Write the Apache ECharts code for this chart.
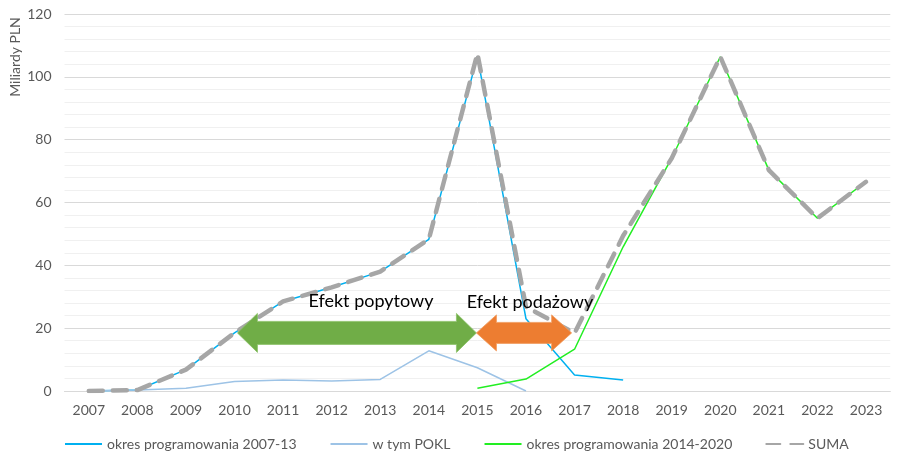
<!DOCTYPE html>
<html>
<head>
<meta charset="utf-8">
<script src="https://cdn.jsdelivr.net/npm/echarts@6/dist/echarts.min.js"></script>
<style>html,body{margin:0;padding:0;background:#fff}#c{width:901px;height:461px}</style>
</head>
<body>
<div id="c"></div>
<script>
var years = ['2007','2008','2009','2010','2011','2012','2013','2014','2015','2016','2017','2018','2019','2020','2021','2022','2023'];
var okres0713 = [0, 0.3, 6.8, 18.5, 28.5, 33, 38, 48.3, 106.5, 23, 5.1, 3.5, null, null, null, null, null];
var pokl = [0, 0.3, 0.9, 3, 3.5, 3.2, 3.7, 12.8, 7.4, 0, null, null, null, null, null, null, null];
var okres1420 = [null, null, null, null, null, null, null, null, 0.9, 3.8, 13.3, 45.9, 74.1, 106.4, 70.3, 55, 66.6];
var suma = [0, 0.3, 6.8, 18.5, 28.5, 33, 38, 48.3, 107.4, 26.8, 18.4, 49.4, 74.1, 106.4, 70.3, 55, 66.6];
var seriesNames = ['okres programowania 2007-13', 'w tym POKL', 'okres programowania 2014-2020', 'SUMA'];
var yTicks = [0, 20, 40, 60, 80, 100, 120];
var yAxisTitle = 'Miliardy PLN';
// annotations: [category index from, category index to, value level]
var arrowDemand = {label: 'Efekt popytowy', from: 3.06, to: 7.98, y: 18.5};
var arrowSupply = {label: 'Efekt podażowy', from: 7.98, to: 9.94, y: 18.5};

var FONT = 'Lato';
var chart = echarts.init(document.getElementById('c'), null, {renderer: 'canvas'});
var option = {
  animation: false,
  textStyle: {fontFamily: FONT},
  grid: {left: 64.5, right: 10.7, top: 14, bottom: 70},
  legend: {
    bottom: 5, left: 59, itemWidth: 37, itemHeight: 10, itemGap: 33,
    itemStyle: {opacity: 0},
    textStyle: {color: '#595959', fontSize: 14, fontFamily: FONT},
    data: seriesNames
  },
  xAxis: {
    type: 'category', data: years, boundaryGap: true,
    axisLine: {show: true, lineStyle: {color: '#D9D9D9', width: 1}},
    axisTick: {show: false},
    axisLabel: {color: '#595959', fontSize: 14, margin: 12}
  },
  yAxis: {
    type: 'value', min: yTicks[0], max: yTicks[yTicks.length - 1], interval: 20,
    axisLine: {show: false}, axisTick: {show: false},
    axisLabel: {color: '#595959', fontSize: 14, margin: 13},
    splitLine: {show: true, lineStyle: {color: '#D9D9D9', width: 1}},
    minorTick: {show: false, splitNumber: 5},
    minorSplitLine: {show: true, lineStyle: {color: '#F0F0F0', width: 1}}
  },
  series: [
    {name: seriesNames[0], type: 'line', data: okres0713, symbol: 'none', connectNulls: false,
     lineStyle: {color: '#00B0F0', width: 1.5}, itemStyle: {color: '#00B0F0'}, z: 2},
    {name: seriesNames[1], type: 'line', data: pokl, symbol: 'none',
     lineStyle: {color: '#9DC3E6', width: 1.5}, itemStyle: {color: '#9DC3E6'}, z: 2},
    {name: seriesNames[2], type: 'line', data: okres1420, symbol: 'none',
     lineStyle: {color: '#22EE22', width: 1.5}, itemStyle: {color: '#22EE22'}, z: 2},
    {name: seriesNames[3], type: 'line', data: suma, symbol: 'none',
     lineStyle: {color: '#A6A6A6', width: 4.5, type: [14, 10], cap: 'round'}, itemStyle: {color: '#A6A6A6'}, z: 3}
  ]
};
chart.setOption(option);

function catX(idx) {
  var i0 = Math.floor(idx), f = idx - i0;
  var p0 = chart.convertToPixel({gridIndex: 0}, [i0, 0]);
  var p1 = chart.convertToPixel({gridIndex: 0}, [i0 + 1, 0]);
  return p0[0] + f * (p1[0] - p0[0]);
}
function arrowShape(a, headLen, headHalf, shaftHalf) {
  var x1 = catX(a.from), x2 = catX(a.to);
  var y = chart.convertToPixel({gridIndex: 0}, [0, a.y])[1];
  return {y: y, x1: x1, x2: x2, points: [
    [x1, y], [x1 + headLen, y - headHalf], [x1 + headLen, y - shaftHalf],
    [x2 - headLen, y - shaftHalf], [x2 - headLen, y - headHalf], [x2, y],
    [x2 - headLen, y + headHalf], [x2 - headLen, y + shaftHalf],
    [x1 + headLen, y + shaftHalf], [x1 + headLen, y + headHalf]
  ]};
}
var g = arrowShape(arrowDemand, 20, 19.5, 11.5);
var o = arrowShape(arrowSupply, 20, 18, 10.5);
chart.setOption({
  graphic: [
    {type: 'polygon', shape: {points: g.points}, style: {fill: '#70AD47', stroke: '#8CC168', lineWidth: 0.8}, z: 10},
    {type: 'polygon', shape: {points: o.points}, style: {fill: '#ED7D31', stroke: '#F19A5C', lineWidth: 0.8}, z: 10},
    {type: 'text', x: (g.x1 + g.x2) / 2 + 14, y: g.y - 32, z: 11,
     style: {text: arrowDemand.label, fill: '#000', font: '18px ' + FONT, align: 'center', verticalAlign: 'middle'}},
    {type: 'text', x: (o.x1 + o.x2) / 2 + 6, y: o.y - 31, z: 11,
     style: {text: arrowSupply.label, fill: '#000', font: '18px ' + FONT, align: 'center', verticalAlign: 'middle'}},
    {type: 'text', x: 15, y: 57, rotation: Math.PI / 2, z: 11,
     style: {text: yAxisTitle, fill: '#595959', font: '14px ' + FONT, align: 'center', verticalAlign: 'middle'}}
  ]
});
</script>
</body>
</html>
